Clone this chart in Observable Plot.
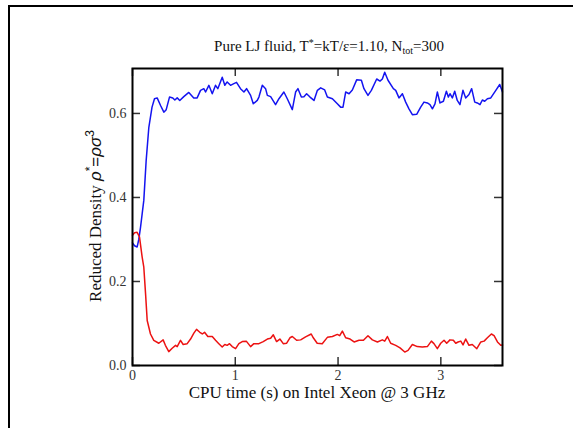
<!DOCTYPE html>
<html>
<head>
<meta charset="utf-8">
<script src="https://cdn.jsdelivr.net/npm/d3@7"></script>
<script src="https://cdn.jsdelivr.net/npm/@observablehq/plot@0.6"></script>
<style>
  html, body { margin: 0; padding: 0; background: white; }
  #wrap { position: relative; width: 573px; height: 428px; overflow: hidden; }
  #border { position: absolute; left: 8px; top: 5px; width: 700px; height: 600px;
            border-top: 2px solid #000; border-left: 2px solid #000; pointer-events: none; }
</style>
</head>
<body>
<div id="wrap"><div id="border"></div></div>
<script>
// ---- data ----
const blueT = [0,0.02,0.045,0.061,0.078,0.094,0.11,0.133,0.159,0.19,0.214,0.24,0.273,0.305,0.328,0.36,0.392,0.412,0.435,0.46,0.499,0.548,0.596,0.629,0.662,0.694,0.711,0.743,0.776,0.808,0.83,0.873,0.898,0.921,0.954,0.986,1.012,1.051,1.084,1.11,1.149,1.175,1.214,1.23,1.263,1.295,1.312,1.344,1.392,1.425,1.473,1.506,1.555,1.587,1.61,1.643,1.668,1.694,1.727,1.766,1.799,1.831,1.87,1.896,1.945,1.993,2.025,2.048,2.074,2.107,2.139,2.181,2.227,2.252,2.291,2.324,2.376,2.408,2.431,2.454,2.486,2.538,2.561,2.593,2.626,2.658,2.69,2.723,2.765,2.804,2.836,2.869,2.894,2.918,2.943,2.966,2.992,3.025,3.054,3.073,3.089,3.112,3.135,3.16,3.186,3.215,3.242,3.274,3.3,3.33,3.355,3.381,3.404,3.427,3.453,3.486,3.535,3.573,3.6];
const blueRho = [0.292,0.285,0.282,0.300,0.329,0.361,0.393,0.488,0.567,0.615,0.635,0.637,0.619,0.603,0.609,0.639,0.637,0.632,0.637,0.631,0.640,0.650,0.637,0.637,0.655,0.659,0.651,0.667,0.647,0.667,0.659,0.686,0.667,0.675,0.667,0.671,0.674,0.659,0.651,0.659,0.643,0.623,0.631,0.639,0.667,0.659,0.643,0.640,0.621,0.635,0.651,0.635,0.609,0.651,0.659,0.639,0.640,0.647,0.639,0.631,0.655,0.661,0.656,0.639,0.635,0.623,0.615,0.615,0.651,0.647,0.656,0.680,0.679,0.659,0.643,0.655,0.682,0.677,0.682,0.698,0.679,0.659,0.655,0.637,0.647,0.627,0.611,0.597,0.598,0.615,0.627,0.625,0.621,0.611,0.623,0.651,0.625,0.629,0.653,0.639,0.647,0.637,0.653,0.631,0.621,0.655,0.637,0.645,0.659,0.627,0.625,0.621,0.632,0.629,0.635,0.637,0.655,0.669,0.651];

const redT = [0,0.02,0.045,0.068,0.094,0.11,0.127,0.143,0.175,0.207,0.256,0.298,0.32,0.353,0.386,0.419,0.435,0.467,0.493,0.532,0.565,0.597,0.623,0.655,0.679,0.701,0.733,0.776,0.808,0.84,0.873,0.898,0.921,0.944,0.97,1.003,1.035,1.068,1.107,1.149,1.181,1.23,1.272,1.312,1.344,1.37,1.402,1.434,1.467,1.5,1.532,1.555,1.597,1.636,1.684,1.739,1.759,1.797,1.846,1.896,1.945,1.993,2.016,2.042,2.074,2.117,2.156,2.204,2.247,2.291,2.334,2.383,2.431,2.454,2.48,2.512,2.561,2.603,2.649,2.681,2.723,2.771,2.82,2.869,2.908,2.933,2.966,2.999,3.031,3.057,3.089,3.122,3.145,3.168,3.194,3.216,3.242,3.274,3.306,3.35,3.389,3.421,3.453,3.492,3.518,3.551,3.583,3.6];
const redRho = [0.310,0.316,0.317,0.306,0.258,0.234,0.171,0.107,0.075,0.060,0.053,0.061,0.048,0.033,0.041,0.048,0.045,0.060,0.050,0.052,0.063,0.077,0.086,0.079,0.075,0.079,0.069,0.069,0.060,0.052,0.044,0.050,0.048,0.052,0.045,0.040,0.052,0.057,0.058,0.045,0.052,0.052,0.057,0.063,0.065,0.073,0.057,0.063,0.052,0.053,0.066,0.069,0.060,0.061,0.068,0.075,0.066,0.053,0.052,0.067,0.069,0.074,0.071,0.082,0.066,0.063,0.056,0.060,0.060,0.071,0.061,0.056,0.061,0.058,0.069,0.053,0.048,0.042,0.032,0.036,0.050,0.045,0.044,0.045,0.058,0.052,0.040,0.053,0.060,0.053,0.061,0.060,0.053,0.056,0.058,0.049,0.063,0.048,0.050,0.040,0.056,0.058,0.066,0.075,0.071,0.056,0.048,0.049];

const xTicks = [0, 1, 2, 3];
const yTicks = [0, 0.2, 0.4, 0.6];
const xDomain = [0, 3.6];
const yDomain = [0, 0.707];

// ---- layout ----
const W = 573, H = 428;
const mL = 132, mR = 71, mT = 68, mB = 63;
const fw = W - mL - mR, fh = H - mT - mB;
const tickLen = 8;
const serif = "'Liberation Serif', 'Times New Roman', serif";
const sans = "'Liberation Sans', Arial, sans-serif";

const blue = blueT.map((t, i) => ({t, rho: blueRho[i]}));
const red = redT.map((t, i) => ({t, rho: redRho[i]}));

const plot = Plot.plot({
  width: W, height: H,
  marginLeft: mL, marginRight: mR, marginTop: mT, marginBottom: mB,
  x: {domain: xDomain},
  y: {domain: yDomain},
  style: {fontFamily: serif, fontSize: "14px", color: "#333", background: "transparent", overflow: "visible"},
  marks: [
    Plot.line(blue, {x: "t", y: "rho", stroke: "#1414f0", strokeWidth: 1.5}),
    Plot.line(red, {x: "t", y: "rho", stroke: "#ec1212", strokeWidth: 1.5}),
    // inward ticks on all four sides
    Plot.tickX(xTicks, {x: d => d, insetTop: fh - tickLen, stroke: "#333", strokeWidth: 1.5}),
    Plot.tickX(xTicks, {x: d => d, insetBottom: fh - tickLen, stroke: "#333", strokeWidth: 1.5}),
    Plot.tickY(yTicks, {y: d => d, insetRight: fw - tickLen, stroke: "#333", strokeWidth: 1.5}),
    Plot.tickY(yTicks, {y: d => d, insetLeft: fw - tickLen, stroke: "#333", strokeWidth: 1.5}),
    Plot.axisX(xTicks, {anchor: "bottom", tickSize: 0, tickPadding: 5, label: null, tickFormat: d3.format("d"), fontFamily: serif, fontSize: 14}),
    Plot.axisY(yTicks, {anchor: "left", tickSize: 0, tickPadding: 6, label: null, tickFormat: d3.format(".1f"), fontFamily: serif, fontSize: 14}),
    Plot.frame({stroke: "#000", strokeWidth: 2})
  ]
});

const svg = d3.select(plot);

// title
const title = svg.append("text")
  .attr("x", 329).attr("y", 51).attr("text-anchor", "middle")
  .attr("font-family", serif).attr("font-size", 15).attr("fill", "#111");
title.append("tspan").text("Pure LJ fluid, T");
title.append("tspan").attr("dy", -5).attr("font-size", 10).text("*");
title.append("tspan").attr("dy", 5).text("=kT/ε=1.10, N");
title.append("tspan").attr("dy", 3).attr("font-size", 10).text("tot");
title.append("tspan").attr("dy", -3).text("=300");

// x label
svg.append("text")
  .attr("x", 317).attr("y", 398).attr("text-anchor", "middle")
  .attr("font-family", serif).attr("font-size", 17).attr("fill", "#111")
  .text("CPU time (s) on Intel Xeon @ 3 GHz");

// y label
const yl = svg.append("text")
  .attr("transform", "translate(101,216) rotate(-90)").attr("text-anchor", "middle")
  .attr("font-family", serif).attr("font-size", 17).attr("fill", "#111");
yl.append("tspan").text("Reduced Density ");
yl.append("tspan").attr("font-family", sans).attr("font-style", "italic").text("ρ");
yl.append("tspan").attr("dy", -7).attr("font-size", 12).attr("font-family", sans).text("*");
yl.append("tspan").attr("dy", 7).attr("font-family", sans).text("=");
yl.append("tspan").attr("font-family", sans).attr("font-style", "italic").text("ρσ");
yl.append("tspan").attr("dy", -7).attr("font-size", 12).attr("font-family", sans).text("3");

const wrap = document.getElementById("wrap");
wrap.insertBefore(plot, wrap.firstChild);
</script>
</body>
</html>
